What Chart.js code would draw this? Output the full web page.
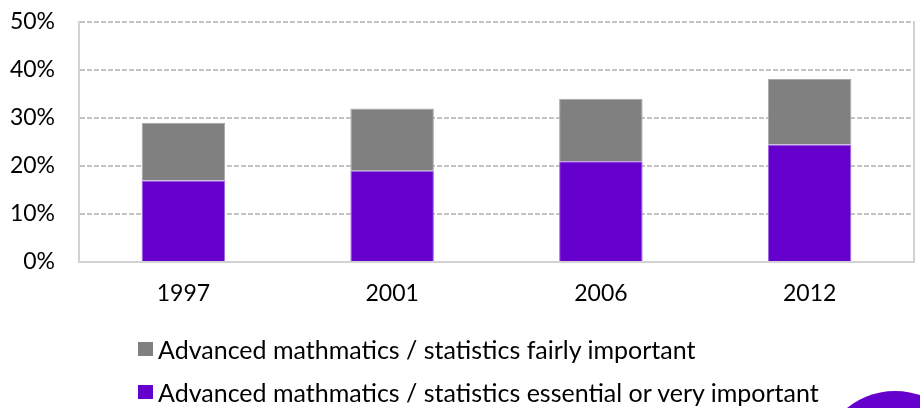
<!DOCTYPE html>
<html>
<head>
<meta charset="utf-8">
<script src="https://cdn.jsdelivr.net/npm/chart.js@4"></script>
<style>
  html, body { margin: 0; padding: 0; background: #fff; }
  #wrap { position: relative; width: 920px; height: 408px; overflow: hidden; }
  #c { position: absolute; left: 0; top: 0; }
  #legend { position: absolute; left: 138px; top: 327px; font-family: Lato, "Open Sans", sans-serif; font-size: 25px; color: #000; }
  .item { display: flex; align-items: center; height: 43px; white-space: nowrap; }
  .box { width: 15px; height: 14px; margin-right: 5px; flex: none; }
  #dot { position: absolute; left: 819px; top: 391px; width: 152px; height: 152px; border-radius: 50%; background: #6600cc; }
</style>
</head>
<body>
<div id="wrap">
  <canvas id="c" width="920" height="408"></canvas>
  <div id="legend"></div>
  <div id="dot"></div>
</div>
<script>
// Survey years
const years = ['1997', '2001', '2006', '2012'];
// Share of respondents (%) rating advanced maths / statistics as essential or very important
const essential = [17, 19, 21, 24.5];
// Share of respondents (%) rating it as fairly important (stacked on top)
const fairly = [12, 13, 13, 13.6];
const labelEssential = 'Advanced mathmatics / statistics essential or very important';
const labelFairly = 'Advanced mathmatics / statistics fairly important';
const yTicks = [0, 10, 20, 30, 40, 50];

const PURPLE = '#6600cc';
const GREY = '#808080';
const FONT = 'Lato, "Open Sans", sans-serif';
const FRAME = '#d2d2d2';

new Chart(document.getElementById('c'), {
  type: 'bar',
  data: {
    labels: years,
    datasets: [
      { label: labelEssential, data: essential, backgroundColor: PURPLE, borderColor: '#9a66dd', borderWidth: 1 },
      { label: labelFairly, data: fairly, backgroundColor: GREY, borderColor: '#a8a8a8', borderWidth: 1 }
    ]
  },
  options: {
    responsive: false,
    animation: false,
    layout: { padding: { top: 22, right: 0, bottom: 0, left: 0 } },
    datasets: { bar: { barPercentage: 0.4, categoryPercentage: 1 } },
    plugins: { legend: { display: false }, tooltip: { enabled: false } },
    scales: {
      x: {
        stacked: true,
        grid: { display: false },
        border: { display: true, color: FRAME, width: 2 },
        ticks: { color: '#000', font: { family: FONT, size: 23 }, padding: 10 },
        afterFit: s => { s.height = 146; }
      },
      y: {
        stacked: true,
        min: 0,
        max: 50,
        afterBuildTicks: s => { s.ticks = yTicks.map(v => ({ value: v })); },
        // invisible tick marks keep the labels clear of the axis line
        grid: { color: '#c4c4c4', lineWidth: 2, drawTicks: true, tickLength: 24, tickColor: 'rgba(0,0,0,0)' },
        // dashed horizontal gridlines; the axis line itself stays solid
        border: { display: true, color: FRAME, width: 2, dash: [5, 2] },
        ticks: { color: '#000', font: { family: FONT, size: 23 }, padding: 0, callback: v => v + '%' },
        afterFit: s => { s.width = 79; }
      },
      yR: {
        position: 'right',
        min: 0,
        max: 50,
        grid: { display: false },
        ticks: { display: false },
        border: { display: true, color: FRAME, width: 2 },
        afterFit: s => { s.width = 6; }
      }
    }
  }
});

// Legend below the plot: fairly important first, then essential
const legend = document.getElementById('legend');
[[labelFairly, GREY], [labelEssential, PURPLE]].forEach(([text, color]) => {
  const row = document.createElement('div');
  row.className = 'item';
  const box = document.createElement('span');
  box.className = 'box';
  box.style.background = color;
  const t = document.createElement('span');
  t.textContent = text;
  row.appendChild(box);
  row.appendChild(t);
  legend.appendChild(row);
});
</script>
</body>
</html>
